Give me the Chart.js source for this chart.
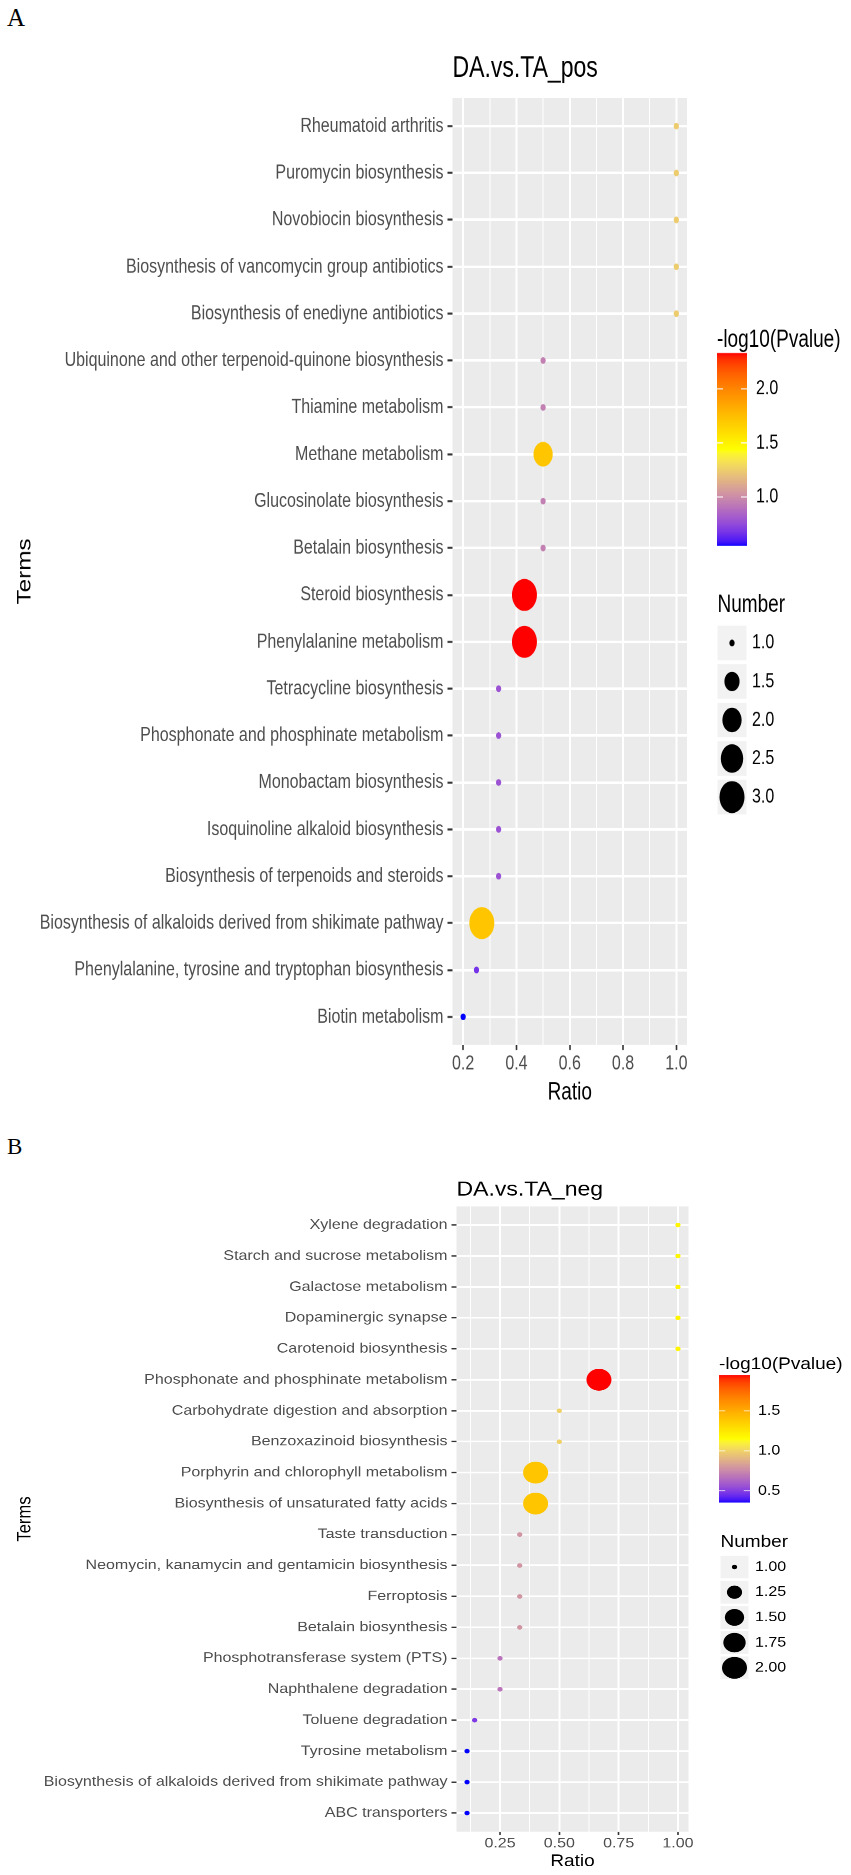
<!DOCTYPE html>
<html>
<head>
<meta charset="utf-8">
<script src="https://cdn.jsdelivr.net/npm/chart.js@4/dist/chart.umd.min.js"></script>
<style>
  html, body { margin: 0; padding: 0; background: #fff; }
  body { width: 851px; height: 1875px; position: relative; overflow: hidden; }
  .panel { position: absolute; left: 0; width: 851px; transform-origin: 0 0; }
  .tag { position: absolute; left: 7px; font-family: "Liberation Serif", "DejaVu Serif", serif; line-height: 1; color: #000; }
</style>
</head>
<body>
<div class="tag" style="top:5px;font-size:25px">A</div>
<div class="panel" style="top:0;height:870px;transform:scaleY(1.28)"><canvas id="chartPos" width="851" height="870"></canvas></div>
<div class="tag" style="top:1135px;font-size:23px">B</div>
<div class="panel" style="top:1105px;height:880px;transform:scaleY(0.875)"><canvas id="chartNeg" width="851" height="880"></canvas></div>
<script>
// ---- DA.vs.TA_pos ----
const termsPos = [
  'Rheumatoid arthritis',
  'Puromycin biosynthesis',
  'Novobiocin biosynthesis',
  'Biosynthesis of vancomycin group antibiotics',
  'Biosynthesis of enediyne antibiotics',
  'Ubiquinone and other terpenoid-quinone biosynthesis',
  'Thiamine metabolism',
  'Methane metabolism',
  'Glucosinolate biosynthesis',
  'Betalain biosynthesis',
  'Steroid biosynthesis',
  'Phenylalanine metabolism',
  'Tetracycline biosynthesis',
  'Phosphonate and phosphinate metabolism',
  'Monobactam biosynthesis',
  'Isoquinoline alkaloid biosynthesis',
  'Biosynthesis of terpenoids and steroids',
  'Biosynthesis of alkaloids derived from shikimate pathway',
  'Phenylalanine, tyrosine and tryptophan biosynthesis',
  'Biotin metabolism'
];
const ratioPos = [1, 1, 1, 1, 1, 0.5, 0.5, 0.5, 0.5, 0.5, 0.43, 0.43, 0.333, 0.333, 0.333, 0.333, 0.333, 0.27, 0.25, 0.2];
const log10pPos = [1.25, 1.25, 1.25, 1.25, 1.25, 0.96, 0.96, 1.72, 0.96, 0.96, 2.33, 2.33, 0.79, 0.79, 0.79, 0.79, 0.79, 1.72, 0.68, 0.556];
const numberPos = [1, 1, 1, 1, 1, 1, 1, 2, 1, 1, 3, 3, 1, 1, 1, 1, 1, 3, 1, 1];
const ratioTicksPos = [0.2, 0.4, 0.6, 0.8, 1.0];
const ratioTickLabelsPos = ['0.2', '0.4', '0.6', '0.8', '1.0'];
const ratioMinorPos = [0.3, 0.5, 0.7, 0.9];
const colourTicksPos = [1.0, 1.5, 2.0];
const colourTickLabelsPos = ['1.0', '1.5', '2.0'];
const sizeKeysPos = [1.0, 1.5, 2.0, 2.5, 3.0];
const sizeKeyLabelsPos = ['1.0', '1.5', '2.0', '2.5', '3.0'];

// ---- DA.vs.TA_neg ----
const termsNeg = [
  'Xylene degradation',
  'Starch and sucrose metabolism',
  'Galactose metabolism',
  'Dopaminergic synapse',
  'Carotenoid biosynthesis',
  'Phosphonate and phosphinate metabolism',
  'Carbohydrate digestion and absorption',
  'Benzoxazinoid biosynthesis',
  'Porphyrin and chlorophyll metabolism',
  'Biosynthesis of unsaturated fatty acids',
  'Taste transduction',
  'Neomycin, kanamycin and gentamicin biosynthesis',
  'Ferroptosis',
  'Betalain biosynthesis',
  'Phosphotransferase system (PTS)',
  'Naphthalene degradation',
  'Toluene degradation',
  'Tyrosine metabolism',
  'Biosynthesis of alkaloids derived from shikimate pathway',
  'ABC transporters'
];
const ratioNeg = [1, 1, 1, 1, 1, 0.667, 0.5, 0.5, 0.4, 0.4, 0.333, 0.333, 0.333, 0.333, 0.25, 0.25, 0.143, 0.111, 0.111, 0.111];
const log10pNeg = [1.2, 1.2, 1.2, 1.2, 1.2, 1.95, 1.0, 1.0, 1.4, 1.4, 0.79, 0.79, 0.79, 0.79, 0.68, 0.68, 0.49, 0.36, 0.36, 0.36];
const numberNeg = [1, 1, 1, 1, 1, 2, 1, 1, 2, 2, 1, 1, 1, 1, 1, 1, 1, 1, 1, 1];
const ratioTicksNeg = [0.25, 0.5, 0.75, 1.0];
const ratioTickLabelsNeg = ['0.25', '0.50', '0.75', '1.00'];
const ratioMinorNeg = [0.125, 0.375, 0.625, 0.875];
const colourTicksNeg = [0.5, 1.0, 1.5];
const colourTickLabelsNeg = ['0.5', '1.0', '1.5'];
const sizeKeysNeg = [1.0, 1.25, 1.5, 1.75, 2.0];
const sizeKeyLabelsNeg = ['1.00', '1.25', '1.50', '1.75', '2.00'];

const FAMILY = '"Liberation Sans", Arial, sans-serif';
Chart.defaults.font.family = FAMILY;
Chart.defaults.animation = false;

// blue -> yellow -> red, interpolated in CIELAB like ggplot
function hexToRgb(h) { return [1, 3, 5].map(i => parseInt(h.substr(i, 2), 16)); }
function toLab(rgb) {
  const lin = c => { c /= 255; return c <= 0.04045 ? c / 12.92 : Math.pow((c + 0.055) / 1.055, 2.4); };
  const [R, G, B] = rgb.map(lin);
  const X = (0.4124 * R + 0.3576 * G + 0.1805 * B) / 0.95047;
  const Y = 0.2126 * R + 0.7152 * G + 0.0722 * B;
  const Z = (0.0193 * R + 0.1192 * G + 0.9505 * B) / 1.08883;
  const f = t => t > 216 / 24389 ? Math.cbrt(t) : (24389 / 27 * t + 16) / 116;
  const fx = f(X), fy = f(Y), fz = f(Z);
  return [116 * fy - 16, 500 * (fx - fy), 200 * (fy - fz)];
}
function fromLab(lab) {
  const [L, a, b] = lab;
  const fy = (L + 16) / 116, fx = fy + a / 500, fz = fy - b / 200;
  const inv = t => t * t * t > 216 / 24389 ? t * t * t : (116 * t - 16) / (24389 / 27);
  const X = inv(fx) * 0.95047, Y = inv(fy), Z = inv(fz) * 1.08883;
  const R = 3.2406 * X - 1.5372 * Y - 0.4986 * Z;
  const G = -0.9689 * X + 1.8758 * Y + 0.0415 * Z;
  const B = 0.0557 * X - 0.2040 * Y + 1.0570 * Z;
  const gam = c => {
    c = Math.min(1, Math.max(0, c));
    return Math.round(255 * (c <= 0.0031308 ? 12.92 * c : 1.055 * Math.pow(c, 1 / 2.4) - 0.055));
  };
  return `rgb(${gam(R)},${gam(G)},${gam(B)})`;
}
const gradientStops = ['#0000FF', '#FFFF00', '#FF0000'].map(h => toLab(hexToRgb(h)));
function gradientColour(t) {
  t = Math.min(1, Math.max(0, t));
  const seg = t < 0.5 ? 0 : 1;
  const u = (t - seg * 0.5) / 0.5;
  const a = gradientStops[seg], b = gradientStops[seg + 1];
  return fromLab(a.map((v, i) => v + (b[i] - v) * u));
}

// ggplot size scale (range 1..6, area) and point size -> pixels
function countToSize(n, lo, hi) { return hi === lo ? 6 : 1 + 5 * Math.sqrt((n - lo) / (hi - lo)); }
function sizeToDiameter(s) { return (s * 2.845 + 0.945) * 25 / 18.0; }

function makePanel(canvasId, p) {
  const L = p.layout;
  const n = p.terms.length;
  const rLo = Math.min(...p.ratio), rHi = Math.max(...p.ratio);
  const rPad = (rHi - rLo) * 0.05;
  const cLo = Math.min(...p.log10p), cHi = Math.max(...p.log10p);
  const nLo = Math.min(...p.number), nHi = Math.max(...p.number);
  const colourOf = v => gradientColour((v - cLo) / (cHi - cLo));
  const radiusOf = k => sizeToDiameter(countToSize(k, nLo, nHi)) / 2;
  const majorIndex = v => p.xTicks.findIndex(t => Math.abs(t - v) < 1e-9);

  const decor = {
    id: 'decor',
    beforeDraw(chart) {
      const { ctx, chartArea: a } = chart;
      ctx.save();
      ctx.fillStyle = '#EBEBEB';
      ctx.fillRect(a.left, a.top, a.right - a.left, a.bottom - a.top);
      ctx.restore();
    },
    afterDraw(chart) {
      const { ctx, chartArea: a } = chart;
      ctx.save();
      ctx.fillStyle = '#000';
      ctx.textAlign = 'left';
      ctx.textBaseline = 'alphabetic';
      ctx.font = '23px ' + FAMILY;
      ctx.fillText(p.title, a.left, L.titleBase);

      // colour bar
      const cb = L.colourBar;
      const h = cb.bottom - cb.top;
      ctx.textBaseline = 'middle';
      ctx.font = '19px ' + FAMILY;
      ctx.fillText('-log10(Pvalue)', cb.x, cb.titleY);
      const bins = 200;
      for (let i = 0; i < bins; i++) {
        ctx.fillStyle = gradientColour((i + 0.5) / bins);
        ctx.fillRect(cb.x, cb.bottom - (i + 1) * h / bins, cb.w, h / bins + 0.6);
      }
      ctx.font = '16px ' + FAMILY;
      p.cTicks.forEach((v, i) => {
        const y = cb.bottom - (v - cLo) / (cHi - cLo) * h;
        ctx.strokeStyle = 'rgba(255,255,255,0.85)';
        ctx.lineWidth = 1;
        ctx.beginPath();
        ctx.moveTo(cb.x, y); ctx.lineTo(cb.x + cb.w / 5, y);
        ctx.moveTo(cb.x + cb.w * 4 / 5, y); ctx.lineTo(cb.x + cb.w, y);
        ctx.stroke();
        ctx.fillStyle = '#000';
        ctx.fillText(p.cTickLabels[i], cb.labelX, y);
      });

      // size legend
      const sl = L.sizeLegend;
      ctx.font = '19px ' + FAMILY;
      ctx.fillStyle = '#000';
      ctx.fillText('Number', sl.x, sl.titleY);
      p.sizeKeys.forEach((k, i) => {
        const cy = sl.firstY + i * sl.step;
        ctx.fillStyle = '#F2F2F2';
        ctx.fillRect(sl.x, cy - sl.box / 2, sl.w, sl.box);
        ctx.fillStyle = '#000';
        ctx.beginPath();
        ctx.arc(sl.x + sl.w / 2, cy, radiusOf(k), 0, Math.PI * 2);
        ctx.fill();
        ctx.font = '16px ' + FAMILY;
        ctx.fillText(p.sizeKeyLabels[i], sl.labelX, cy);
      });
      ctx.restore();
    }
  };

  return new Chart(document.getElementById(canvasId), {
    type: 'scatter',
    data: {
      datasets: [{
        data: p.terms.map((t, i) => ({ x: p.ratio[i], y: i })),
        pointRadius: c => radiusOf(p.number[c.dataIndex]),
        pointHoverRadius: c => radiusOf(p.number[c.dataIndex]),
        pointBackgroundColor: c => colourOf(p.log10p[c.dataIndex]),
        pointBorderWidth: 0,
        pointHoverBorderWidth: 0
      }]
    },
    options: {
      responsive: false,
      maintainAspectRatio: false,
      devicePixelRatio: 2,
      events: [],
      layout: {
        autoPadding: false,
        padding: { top: L.area.top, right: 851 - L.area.right, bottom: 0, left: 0 }
      },
      plugins: { legend: { display: false }, tooltip: { enabled: false } },
      scales: {
        x: {
          type: 'linear',
          min: rLo - rPad,
          max: rHi + rPad,
          afterBuildTicks: s => {
            s.ticks = [...p.xTicks, ...p.xMinor].sort((a, b) => a - b).map(v => ({ value: v }));
          },
          afterFit: s => { s.height = L.height - L.area.bottom; },
          ticks: {
            autoSkip: false, maxRotation: 0, minRotation: 0,
            padding: L.xTickPad,
            color: '#4D4D4D',
            font: { size: 16 },
            callback: v => { const j = majorIndex(v); return j >= 0 ? p.xTickLabels[j] : ''; }
          },
          grid: {
            color: '#FFFFFF',
            lineWidth: c => (c.tick && majorIndex(c.tick.value) >= 0) ? 2 : 1,
            drawTicks: true,
            tickLength: 4,
            tickWidth: 1.6,
            tickColor: c => (c.tick && majorIndex(c.tick.value) >= 0) ? '#333333' : 'rgba(0,0,0,0)'
          },
          border: { display: false },
          title: {
            display: true, text: 'Ratio', color: '#000',
            font: { size: 19 },
            padding: { top: 0, bottom: L.xTitlePad }
          }
        },
        y: {
          type: 'linear',
          reverse: true,
          min: -0.6,
          max: n - 1 + 0.6,
          afterBuildTicks: s => { s.ticks = p.terms.map((t, i) => ({ value: i })); },
          afterFit: s => { s.width = L.area.left; },
          ticks: {
            autoSkip: false,
            padding: 4,
            color: '#4D4D4D',
            font: { size: 16 },
            callback: v => p.terms[v]
          },
          grid: {
            color: '#FFFFFF',
            lineWidth: 2,
            drawTicks: true,
            tickLength: 5,
            tickWidth: 1.6,
            tickColor: '#333333'
          },
          border: { display: false },
          title: {
            display: true, text: 'Terms', color: '#000',
            font: { size: 19 },
            padding: { top: 14, bottom: 0 }
          }
        }
      }
    },
    plugins: [decor]
  });
}

makePanel('chartPos', {
  title: 'DA.vs.TA_pos',
  terms: termsPos, ratio: ratioPos, log10p: log10pPos, number: numberPos,
  xTicks: ratioTicksPos, xTickLabels: ratioTickLabelsPos, xMinor: ratioMinorPos,
  cTicks: colourTicksPos, cTickLabels: colourTickLabelsPos,
  sizeKeys: sizeKeysPos, sizeKeyLabels: sizeKeyLabelsPos,
  layout: {
    height: 870,
    area: { left: 452.5, right: 687, top: 76.5, bottom: 816.4 },
    titleBase: 60,
    xTickPad: 1,
    xTitlePad: 4.6,
    colourBar: { x: 717, w: 30, top: 275.8, bottom: 425.8, titleY: 265.6, labelX: 756 },
    sizeLegend: { x: 717.5, w: 29, box: 27, titleY: 473, firstY: 502.3, step: 30.1, labelX: 752 }
  }
});

makePanel('chartNeg', {
  title: 'DA.vs.TA_neg',
  terms: termsNeg, ratio: ratioNeg, log10p: log10pNeg, number: numberNeg,
  xTicks: ratioTicksNeg, xTickLabels: ratioTickLabelsNeg, xMinor: ratioMinorNeg,
  cTicks: colourTicksNeg, cTickLabels: colourTickLabelsNeg,
  sizeKeys: sizeKeysNeg, sizeKeyLabels: sizeKeyLabelsNeg,
  layout: {
    height: 880,
    area: { left: 456.5, right: 688.5, top: 115.9, bottom: 830.4 },
    titleBase: 103.4,
    xTickPad: 0,
    xTitlePad: 3.6,
    colourBar: { x: 719, w: 31, top: 308.6, bottom: 453.7, titleY: 297, labelX: 758 },
    sizeLegend: { x: 720.5, w: 28, box: 26, titleY: 499.7, firstY: 528, step: 28.8, labelX: 755 }
  }
});
</script>
</body>
</html>
